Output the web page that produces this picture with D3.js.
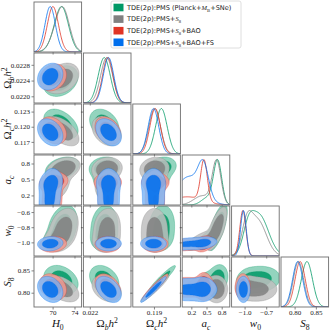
<!DOCTYPE html>
<html>
<head>
<meta charset="utf-8">
<script src="https://cdn.jsdelivr.net/npm/d3@7"></script>
<style>
  body { margin: 0; background: #fff; }
</style>
</head>
<body>
<div id="triangle"></div>
<script>
// parameters, in triangle order
var params = ["H0", "obh2", "och2", "ac", "w0", "s8"];

var seriesNames = ["Planck+MB+SNe", "+S8", "+S8+BAO", "+S8+BAO+FS"];
var seriesColors = ["#009966", "#808080", "#E03424", "#006FED"];

// each posterior = small gaussian mixture (weights, means, sds per component)
var compWeights = [[0.8, 0.2], [0.7, 0.3], [0.52, 0.48], [0.3, 0.7]];
var compMeans = [
  [[71.8, 0.02239, 0.1206, 0.72, -0.80, 0.830], [70.6, 0.02237, 0.1203, 0.52, -0.95, 0.825]],
  [[72.0, 0.02246, 0.1191, 0.70, -0.82, 0.808], [70.8, 0.02243, 0.1193, 0.42, -0.97, 0.812]],
  [[70.2, 0.02248, 0.1193, 0.45, -1.02, 0.814], [69.9, 0.02248, 0.1192, 0.12, -1.03, 0.812]],
  [[69.7, 0.02250, 0.1189, 0.44, -1.01, 0.808], [69.5, 0.02250, 0.1189, 0.15, -1.02, 0.807]]
];
var compSds = [
  [[1.2, 0.00016, 0.0012, 0.08, 0.13, 0.013], [1.2, 0.00016, 0.0012, 0.12, 0.07, 0.013]],
  [[1.2, 0.00016, 0.0012, 0.085, 0.12, 0.012], [1.3, 0.00016, 0.0012, 0.17, 0.07, 0.012]],
  [[1.0, 0.00014, 0.0011, 0.065, 0.04, 0.012], [1.0, 0.00014, 0.0011, 0.30, 0.045, 0.012]],
  [[0.95, 0.00014, 0.0011, 0.10, 0.035, 0.012], [0.95, 0.00014, 0.0011, 0.25, 0.04, 0.012]]
];
// correlations, pair order: 01 02 03 04 05 12 13 14 15 23 24 25 34 35 45
var corrs = [
  [0.3, -0.5, 0.3, 0.3, -0.35, -0.3, 0.1, 0.1, -0.3, 0.2, 0.1, 0.95, 0.7, 0.2, 0.1],
  [0.3, -0.55, 0.3, 0.3, -0.45, -0.3, 0.1, 0.1, -0.3, 0.1, 0.0, 0.95, 0.7, 0.0, 0.0],
  [0.2, -0.3, 0.2, 0.1, -0.25, -0.3, 0.0, 0.0, -0.35, 0.0, 0.0, 0.95, 0.3, 0.0, 0.0],
  [0.2, -0.3, 0.2, 0.1, -0.25, -0.35, 0.0, 0.0, -0.4, 0.0, 0.0, 0.96, 0.3, 0.0, 0.0]
];

var ranges = [[66.6, 75.3], [0.02183, 0.0231], [0.1146, 0.1245], [0.02, 0.96], [-1.18, -0.52], [0.768, 0.88]];
var xTicks = [[70, 74], [0.022], [0.119], [0.2, 0.5, 0.8], [-1.0, -0.7], [0.80, 0.85]];
var yTicks = [[], [0.0220, 0.0224, 0.0228], [0.117, 0.120, 0.123], [0.2, 0.5, 0.8], [-1.0, -0.8, -0.6], [0.80, 0.85]];
var xFormats = [".0f", ".3f", ".3f", ".1f", ".1f", ".2f"];
var yFormats = [".0f", ".4f", ".3f", ".1f", ".1f", ".2f"];

// math-ish labels: i = italic, r = roman, s = subscript, si = italic subscript, p = superscript, t = sans text
var axisLabels = [
  [["H", "i"], ["0", "s"]],
  [["\u03A9", "r"], ["b", "si"], ["h", "i"], ["2", "p"]],
  [["\u03A9", "r"], ["c", "si"], ["h", "i"], ["2", "p"]],
  [["a", "i"], ["c", "si"]],
  [["w", "i"], ["0", "s"]],
  [["S", "i"], ["8", "s"]]
];
var legendLabels = [
  [["TDE(2p):PMS (Planck+", "t"], ["M", "i"], ["B", "s"], ["+SNe)", "t"]],
  [["TDE(2p):PMS+", "t"], ["S", "i"], ["8", "s"]],
  [["TDE(2p):PMS+", "t"], ["S", "i"], ["8", "s"], ["+BAO", "t"]],
  [["TDE(2p):PMS+", "t"], ["S", "i"], ["8", "s"], ["+BAO+FS", "t"]]
];

var padLeft = 34, padTop = 2, colStep = 49.4, rowStep = 51, pw = 47.6, ph = 50;
var nGrid = 70;
var frameColor = "#6e6e6e";

var pairIndex = {};
(function() {
  var k = 0;
  for (var i = 0; i < 6; i++) for (var j = i + 1; j < 6; j++) pairIndex[i + "-" + j] = k++;
})();

function gauss1(x, m, s) {
  var d = (x - m) / s;
  return Math.exp(-0.5 * d * d) / (s * Math.sqrt(2 * Math.PI));
}
function gauss2(x, y, mx, my, sx, sy, r) {
  var dx = (x - mx) / sx, dy = (y - my) / sy;
  var q = (dx * dx - 2 * r * dx * dy + dy * dy) / (1 - r * r);
  return Math.exp(-0.5 * q) / (2 * Math.PI * sx * sy * Math.sqrt(1 - r * r));
}
function dens1(s, i, x) {
  var sum = 0;
  compWeights[s].forEach(function(w, k) { sum += w * gauss1(x, compMeans[s][k][i], compSds[s][k][i]); });
  return sum;
}
function dens2(s, i, j, x, y) {
  var rho = corrs[s][pairIndex[i + "-" + j]], sum = 0;
  compWeights[s].forEach(function(w, k) {
    var m = compMeans[s][k], sd = compSds[s][k];
    sum += w * gauss2(x, y, m[i], m[j], sd[i], sd[j], rho);
  });
  return sum;
}

function writeMath(sel, parts, size, sansFont) {
  var shift = 0;
  parts.forEach(function(p) {
    var t = sel.append("tspan").text(p[0]);
    var target = 0, fs = size;
    if (p[1] === "s" || p[1] === "si") { target = 0.3 * size; fs = size * 0.7; }
    if (p[1] === "p") { target = -0.4 * size; fs = size * 0.7; }
    t.attr("dy", target - shift).style("font-size", fs + "px");
    shift = target;
    if (p[1] === "t") t.style("font-family", sansFont);
    else t.style("font-family", "'Liberation Serif', serif");
    if (p[1] === "i" || p[1] === "si") t.style("font-style", "italic");
  });
}

var svg = d3.select("#triangle")
    .append("svg")
    .attr("width", 333)
    .attr("height", 333);

var defs = svg.append("defs");

for (var r = 0; r < 6; r++) {
  for (var c = 0; c <= r; c++) {
    var g = svg.append("g")
        .attr("transform", "translate(" + (padLeft + c * colStep) + "," + (padTop + r * rowStep) + ")");
    var clipId = "clip-" + r + "-" + c;
    defs.append("clipPath").attr("id", clipId)
        .append("rect").attr("width", pw).attr("height", ph);
    var plot = g.append("g").attr("clip-path", "url(#" + clipId + ")");

    var x = d3.scaleLinear().domain(ranges[c]).range([0, pw]);

    if (r === c) {
      // 1D marginals
      var y1 = d3.scaleLinear().domain([0, 1.1]).range([ph, 0]);
      var xs = d3.range(161).map(function(k) { return ranges[c][0] + k / 160 * (ranges[c][1] - ranges[c][0]); });
      seriesColors.forEach(function(col, s) {
        var vals = xs.map(function(v) { return dens1(s, c, v); });
        var mx = d3.max(vals);
        plot.append("path")
            .datum(xs.map(function(v, k) { return [v, vals[k] / mx]; }))
            .attr("fill", "none")
            .attr("stroke", col)
            .attr("stroke-width", 0.8)
            .attr("d", d3.line().x(function(d) { return x(d[0]); }).y(function(d) { return y1(d[1]); }));
      });
    } else {
      // 2D contours, 68% and 95%
      var y = d3.scaleLinear().domain(ranges[r]).range([ph, 0]);
      var xr = ranges[c], yr = ranges[r];
      var proj = d3.geoPath(d3.geoTransform({
        point: function(px, py) {
          this.stream.point(x(xr[0] + px / nGrid * (xr[1] - xr[0])), y(yr[0] + py / nGrid * (yr[1] - yr[0])));
        }
      }));
      seriesColors.forEach(function(col, s) {
        var values = new Array(nGrid * nGrid);
        for (var iy = 0; iy < nGrid; iy++) {
          for (var ix = 0; ix < nGrid; ix++) {
            var vx = xr[0] + (ix + 0.5) / nGrid * (xr[1] - xr[0]);
            var vy = yr[0] + (iy + 0.5) / nGrid * (yr[1] - yr[0]);
            values[ix + iy * nGrid] = dens2(s, c, r, vx, vy);
          }
        }
        var sorted = values.slice().sort(function(a, b) { return b - a; });
        var total = d3.sum(sorted), cum = 0, l68 = null, l95 = null;
        for (var k = 0; k < sorted.length; k++) {
          cum += sorted[k];
          if (l68 === null && cum >= 0.68 * total) l68 = sorted[k];
          if (l95 === null && cum >= 0.95 * total) { l95 = sorted[k]; break; }
        }
        var cs = d3.contours().size([nGrid, nGrid]).thresholds([l95, l68])(values);
        var light = d3.interpolateRgb(col, "#ffffff")(0.5);
        plot.append("path")
            .attr("d", proj(cs[0]))
            .attr("fill", light)
            .attr("fill-opacity", 0.85)
            .attr("stroke", col)
            .attr("stroke-opacity", 0.6)
            .attr("stroke-width", 0.5);
        plot.append("path")
            .attr("d", proj(cs[1]))
            .attr("fill", col)
            .attr("fill-opacity", 0.85)
            .attr("stroke", col)
            .attr("stroke-opacity", 0.6)
            .attr("stroke-width", 0.5);
      });

      // y ticks
      var ya = g.append("g")
          .call(d3.axisLeft(y).tickValues(yTicks[r]).tickSize(2.5).tickSizeOuter(0).tickPadding(1.5)
                .tickFormat(c === 0 ? d3.format(yFormats[r]) : ""));
      ya.select(".domain").remove();
      ya.selectAll("line").attr("stroke", "#333").attr("stroke-width", 0.6);
      ya.selectAll("text").style("font-family", "'Liberation Serif', serif").style("font-size", "7px").attr("fill", "#222");
    }

    // x ticks
    var xa = g.append("g")
        .attr("transform", "translate(0," + ph + ")")
        .call(d3.axisBottom(x).tickValues(xTicks[c]).tickSize(2.5).tickSizeOuter(0).tickPadding(1)
              .tickFormat(r === 5 ? d3.format(xFormats[c]) : ""));
    xa.select(".domain").remove();
    xa.selectAll("line").attr("stroke", "#333").attr("stroke-width", 0.6);
    xa.selectAll("text").style("font-family", "'Liberation Serif', serif").style("font-size", "7px").attr("fill", "#222");

    g.append("rect")
        .attr("width", pw)
        .attr("height", ph)
        .attr("fill", "none")
        .attr("stroke", frameColor)
        .attr("stroke-width", 0.9);
  }
}

// axis labels
axisLabels.forEach(function(parts, i) {
  var bx = svg.append("text")
      .attr("x", padLeft + i * colStep + pw / 2)
      .attr("y", 327)
      .attr("text-anchor", "middle")
      .attr("fill", "#111");
  writeMath(bx, parts, 11);
  if (i > 0) {
    var cy = padTop + i * rowStep + ph / 2;
    var ly = svg.append("text")
        .attr("transform", "translate(11," + cy + ") rotate(-90)")
        .attr("text-anchor", "middle")
        .attr("fill", "#111");
    writeMath(ly, parts, 11);
  }
});

// legend
var leg = svg.append("g").attr("transform", "translate(111,1)");
leg.append("rect")
    .attr("width", 130)
    .attr("height", 47)
    .attr("rx", 2)
    .attr("fill", "#fff")
    .attr("stroke", "#d6d6d6")
    .attr("stroke-width", 0.8);
legendLabels.forEach(function(parts, s) {
  var cy = 6.5 + s * 11.6;
  leg.append("rect")
      .attr("x", 2.5)
      .attr("y", cy - 3.8)
      .attr("width", 10)
      .attr("height", 7.6)
      .attr("fill", seriesColors[s]);
  var t = leg.append("text")
      .attr("x", 16)
      .attr("y", cy + 2.3)
      .attr("fill", "#222");
  writeMath(t, parts, 6.6, "'DejaVu Sans', sans-serif");
});
</script>
</body>
</html>
